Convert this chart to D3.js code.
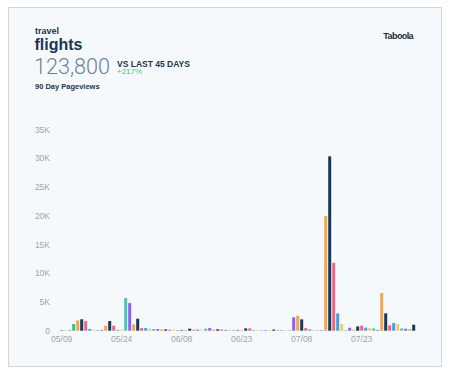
<!DOCTYPE html>
<html>
<head>
<meta charset="utf-8">
<script src="https://cdn.jsdelivr.net/npm/d3@7"></script>
<style>
  html, body { margin: 0; padding: 0; background: #ffffff; }
  svg { display: block; font-family: "Helvetica Neue", Arial, "Liberation Sans", sans-serif; }
</style>
</head>
<body>
<div id="chart"></div>
<script>
// Daily pageviews, 05/09 onward (one value per day)
const pageviews = [
  120, 120, 150, 1160, 1800, 1980, 1680, 300, 150, 120,
  150, 870, 1680, 870, 150, 150, 5680, 4800, 1100, 2080,
  460, 460, 350, 290, 290, 230, 230, 170, 150, 120,
  150, 120, 350, 150, 200, 150, 350, 460, 200, 250,
  200, 150, 150, 120, 150, 100, 400, 400, 100, 100,
  100, 100, 100, 200, 100, 100, 100, 80, 2320, 2600,
  1970, 460, 230, 100, 100, 100, 19950, 30300, 11800, 3010,
  1160, 100, 520, 170, 750, 870, 520, 460, 400, 150,
  6550, 3010, 930, 1330, 1160, 400, 350, 290, 1040
];

// Colour group of each day's bar
const dayGroups = ("bytg" + "onpbytu" + "onpbytu" + "onpbytu" + "onp" +
  "ytuonpb" + "ytuonpb" + "ytuonpb" + "ytuonpb" + "ytuonpb" + "ytuonpb" +
  "ytuonpb" + "ytuonpb" + "ytuon").split("");

const yTicks = [0, 5000, 10000, 15000, 20000, 25000, 30000, 35000];
const xTickDays = [0, 15, 30, 45, 60, 75];
const xTickLabels = ["05/09", "05/24", "06/08", "06/23", "07/08", "07/23"];

const W = 451, H = 375;

const color = d3.scaleOrdinal()
  .domain(["o", "n", "p", "b", "y", "t", "u", "g"])
  .range(["#f2a553", "#173a5a", "#ec6686", "#3ea2dc", "#f4c96a", "#4cc3bd", "#8d62ec", "#2ec480"]);

const svg = d3.select("#chart")
  .append("svg")
    .attr("width", W)
    .attr("height", H);

// Card
svg.append("rect")
  .attr("x", 8.5).attr("y", 7.5)
  .attr("width", 433).attr("height", 359)
  .attr("fill", "#f6f9fc")
  .attr("stroke", "#d3d7dc")
  .attr("stroke-width", 1);

// Header
svg.append("text")
  .attr("x", 35).attr("y", 33.5)
  .attr("fill", "#1b3651")
  .style("font-size", "9px").style("font-weight", "bold")
  .text("travel");

svg.append("text")
  .attr("x", 34.5).attr("y", 50)
  .attr("fill", "#1b3651")
  .style("font-size", "16px").style("font-weight", "bold")
  .text("flights");

svg.append("text")
  .attr("x", 34).attr("y", 74)
  .attr("fill", "#6a8399")
  .attr("textLength", 76)
  .attr("lengthAdjust", "spacingAndGlyphs")
  .style("font-family", "Roboto, Lato, sans-serif")
  .style("font-size", "22px").style("font-weight", "300")
  .text("123,800");

svg.append("text")
  .attr("x", 117).attr("y", 66.5)
  .attr("fill", "#1b3651")
  .style("font-size", "8.5px").style("font-weight", "bold")
  .text("VS LAST 45 DAYS");

svg.append("text")
  .attr("x", 117).attr("y", 74)
  .attr("fill", "#4fbf72")
  .style("font-size", "8px")
  .text("+217%");

svg.append("text")
  .attr("x", 35).attr("y", 89)
  .attr("fill", "#1b3651")
  .style("font-size", "7.5px").style("font-weight", "bold")
  .text("90 Day Pageviews");

svg.append("text")
  .attr("x", 413).attr("y", 38.5)
  .attr("text-anchor", "end")
  .attr("fill", "#1b2b3a")
  .style("font-size", "9px").style("font-weight", "bold")
  .style("letter-spacing", "-0.6px")
  .text("Taboola");

// Scales
const x = d3.scaleBand()
  .domain(d3.range(pageviews.length))
  .range([59.7, 59.7 + 4 * pageviews.length])
  .paddingInner(0.25)
  .paddingOuter(0.125);

const y = d3.scaleLinear()
  .domain([0, 35000])
  .range([330.7, 129.3]);

// Y axis
const yAxis = svg.append("g")
  .attr("transform", "translate(50,0)")
  .call(d3.axisLeft(y).tickValues(yTicks).tickSize(0).tickPadding(0)
    .tickFormat(d => d === 0 ? "0" : (d / 1000) + "K"));
yAxis.select(".domain").remove();
yAxis.selectAll("text")
  .attr("fill", "#9ba6b1")
  .style("font-size", "8.5px")
  .style("font-family", "inherit");

// X axis
const xAxis = svg.append("g")
  .attr("transform", "translate(0,336)")
  .call(d3.axisBottom(x).tickValues(xTickDays).tickSize(0).tickPadding(0)
    .tickFormat((d, i) => xTickLabels[i]));
xAxis.select(".domain").remove();
xAxis.selectAll("text")
  .attr("fill", "#9ba6b1")
  .style("font-size", "8.5px")
  .style("font-family", "inherit");

// Bars
svg.append("g")
  .selectAll("rect")
  .data(pageviews)
  .join("rect")
    .attr("x", (d, i) => x(i))
    .attr("y", d => y(d))
    .attr("width", x.bandwidth())
    .attr("height", d => y(0) - y(d))
    .attr("fill", (d, i) => color(dayGroups[i]));
</script>
</body>
</html>
